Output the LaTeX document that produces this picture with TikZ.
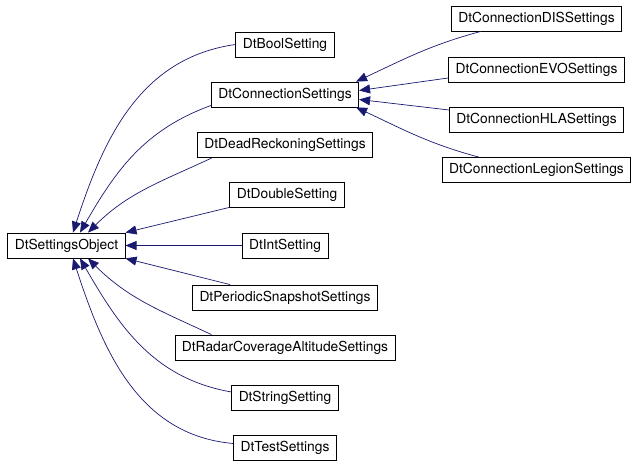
\documentclass[tikz,border=0pt]{standalone}
\usepackage{fontspec}
\setmainfont{TeX Gyre Heros}
\usetikzlibrary{arrows.meta}
\definecolor{edgeblue}{HTML}{191970}

\begin{document}
\begin{tikzpicture}[
    x=1pt, y=1pt,
    cls/.style={rectangle, draw=black, line width=0.8pt, fill=white, minimum height=25pt, inner xsep=7pt, font=\fontsize{13.8}{16}\selectfont},
    inherit/.style={{Triangle[length=11pt, width=9pt]}-, draw=edgeblue, fill=none, line width=0.7pt}
]
\useasboundingbox (0,0) rectangle (637,468);

% Base class
\node[cls] (obj) at (66.5,222.5) {DtSettingsObject};

% Derived classes
\node[cls] (bool) at (285,423.5) {DtBoolSetting};
\node[cls] (conn) at (285,373.5) {DtConnectionSettings};
\node[cls] (dead) at (285,323) {DtDeadReckoningSettings};
\node[cls] (dbl) at (287,273.5) {DtDoubleSetting};
\node[cls] (int) at (285,222.5) {DtIntSetting};
\node[cls] (per) at (285,170.5) {DtPeriodicSnapshotSettings};
\node[cls] (radar) at (285,120.5) {DtRadarCoverageAltitudeSettings};
\node[cls] (str) at (285,70) {DtStringSetting};
\node[cls] (test) at (285,20.5) {DtTestSettings};

% Connection settings
\node[cls] (dis) at (536.5,449.5) {DtConnectionDISSettings};
\node[cls] (evo) at (536.5,398.5) {DtConnectionEVOSettings};
\node[cls] (hla) at (536.5,348.5) {DtConnectionHLASettings};
\node[cls] (legion) at (536.5,298) {DtConnectionLegionSettings};

% Edges to DtSettingsObject
\draw[inherit] ([xshift=6.5pt]obj.north) to[out=72, in=188] (bool.west);
\draw[inherit] ([xshift=13.5pt]obj.north) to[out=60, in=200] ([yshift=-11pt]conn.west);
\draw[inherit] ([xshift=21.5pt]obj.north) to[out=45, in=205] ([xshift=15pt]dead.south west);
\draw[inherit] (obj.north east) -- (dbl.south west);
\draw[inherit] (obj.east) -- (int.west);
\draw[inherit] (obj.south east) -- ([xshift=38pt]per.north west);
\draw[inherit] ([xshift=21.5pt]obj.south) to[out=-45, in=155] ([xshift=37pt]radar.north west);
\draw[inherit] ([xshift=13.5pt]obj.south) to[out=-60, in=170] ([yshift=6pt]str.west);
\draw[inherit] ([xshift=6.5pt]obj.south) to[out=-72, in=175] ([yshift=4pt]test.west);

% Edges to DtConnectionSettings
\draw[inherit] ([xshift=-3pt]conn.north east) to[out=25, in=195] ([xshift=30pt]dis.south west);
\draw[inherit] ([yshift=4pt]conn.east) -- ([yshift=-8.5pt]evo.west);
\draw[inherit] ([yshift=-5pt]conn.east) -- ([yshift=9.5pt]hla.west);
\draw[inherit] ([xshift=-3pt]conn.south east) to[out=-25, in=165] ([xshift=37pt]legion.north west);

\end{tikzpicture}
\end{document}
